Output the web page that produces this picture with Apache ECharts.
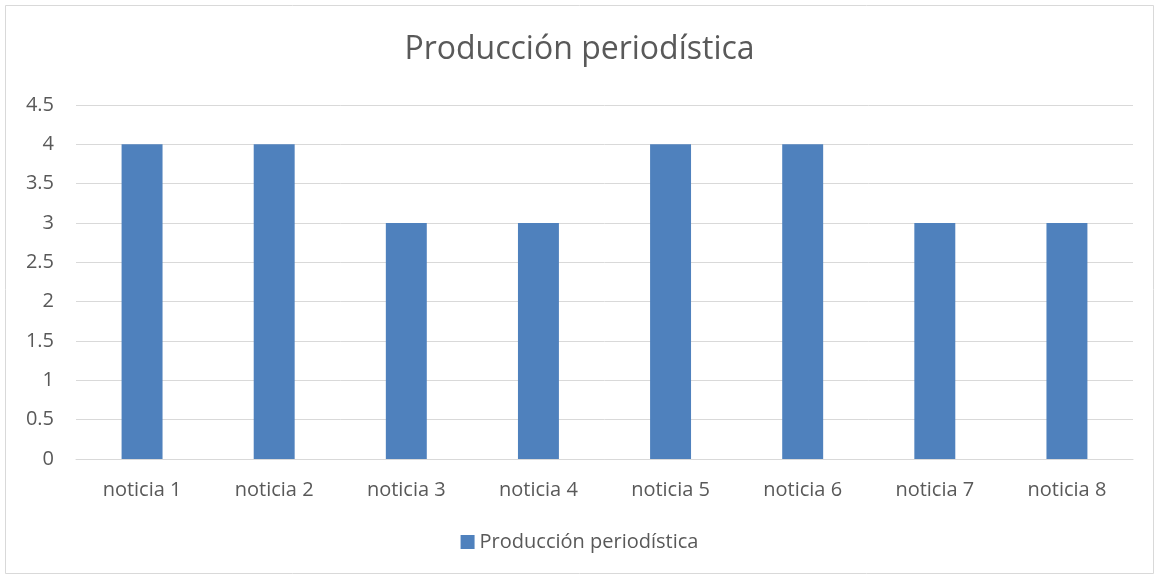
<!DOCTYPE html>
<html>
<head>
<meta charset="utf-8">
<script src="https://cdn.jsdelivr.net/npm/echarts@6/dist/echarts.min.js"></script>
<style>
html, body { margin: 0; padding: 0; background: #fff; }
#main { width: 1159px; height: 579px; }
</style>
</head>
<body>
<div id="main"></div>
<script>
var categories = ["noticia 1", "noticia 2", "noticia 3", "noticia 4", "noticia 5", "noticia 6", "noticia 7", "noticia 8"];
var values = [4, 4, 3, 3, 4, 4, 3, 3];
var seriesName = "Producción periodística";
var titleText = "Producción periodística";

var myChart = echarts.init(document.getElementById('main'));
var font = '"Open Sans", "Noto Sans", sans-serif';
var option = {
	backgroundColor: '#fff',
	animation: false,
	graphic: [{
		type: 'rect',
		shape: { x: 5.5, y: 5.5, width: 1148, height: 568 },
		style: { fill: 'none', stroke: '#d9d9d9', lineWidth: 1 },
		silent: true
	}],
	title: {
		text: titleText,
		left: 'center',
		top: 29,
		textStyle: { color: '#595959', fontSize: 32, fontWeight: 'normal', fontFamily: font }
	},
	legend: {
		data: [seriesName],
		bottom: 22,
		left: 'center',
		icon: 'rect',
		itemWidth: 14,
		itemHeight: 14,
		itemGap: 5,
		textStyle: { color: '#595959', fontSize: 20, fontFamily: font }
	},
	grid: { left: 76, right: 26, top: 105, bottom: 120, containLabel: false },
	xAxis: {
		type: 'category',
		data: categories,
		axisTick: { show: false },
		axisLine: { lineStyle: { color: '#d9d9d9', width: 1 } },
		axisLabel: { color: '#595959', fontSize: 20, margin: 21, fontFamily: font, interval: 0 }
	},
	yAxis: {
		type: 'value',
		min: 0,
		max: 4.5,
		interval: 0.5,
		axisLine: { show: false },
		axisTick: { show: false },
		splitLine: { lineStyle: { color: '#d9d9d9', width: 1 } },
		axisLabel: { color: '#595959', fontSize: 20, margin: 22, fontFamily: font }
	},
	series: [{
		name: seriesName,
		type: 'bar',
		data: values,
		barWidth: '31%',
		itemStyle: { color: '#4f81bd' }
	}]
};
myChart.setOption(option);
</script>
</body>
</html>
